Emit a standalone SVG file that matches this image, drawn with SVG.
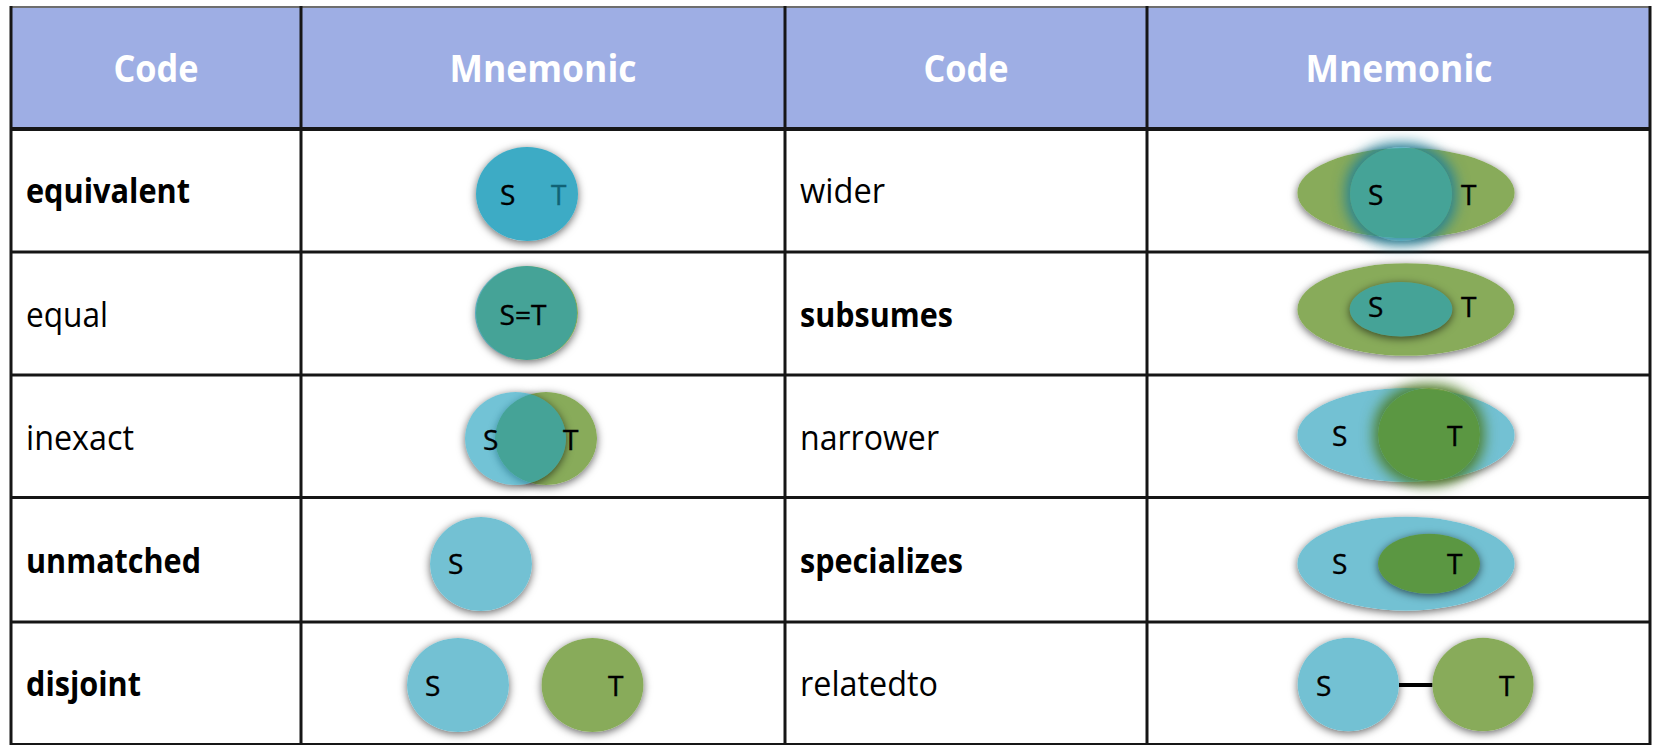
<svg xmlns="http://www.w3.org/2000/svg" width="1653" height="745" viewBox="0 0 1653 745">
<style>
  .hd{font-family:"Open Sans","Liberation Sans",sans-serif;font-weight:bold;font-size:37px;fill:#ffffff;text-anchor:middle}
  .c{font-family:"Open Sans","Liberation Sans",sans-serif;font-size:34px;fill:#000000}
  .b{font-weight:bold}
  .lb{font-family:"Open Sans","Liberation Sans",sans-serif;font-size:28px;fill:#000000;stroke:#000000;stroke-width:0.4}
  .grid{stroke:#161616;stroke-width:3;fill:none}
  .bs{fill:#73c1d3}
  .gs{fill:#88ab5a}
  .bo{fill:#1b9ebd;fill-opacity:0.62}
  .go{fill:#558c19;fill-opacity:0.78}
</style>
<defs>
  <filter id="sh" x="-40%" y="-40%" width="180%" height="180%" color-interpolation-filters="sRGB">
    <feComponentTransfer in="SourceAlpha" result="a"><feFuncA type="linear" slope="1"/></feComponentTransfer>
    <feGaussianBlur in="a" stdDeviation="4" result="b"/>
    <feOffset in="b" dy="2" result="o"/>
    <feFlood flood-color="#000000" flood-opacity="0.6"/>
    <feComposite in2="o" operator="in" result="s"/>
    <feComposite in="s" in2="a" operator="out" result="so"/>
    <feMerge><feMergeNode in="so"/><feMergeNode in="SourceGraphic"/></feMerge>
  </filter>
  <filter id="shB" x="-40%" y="-40%" width="180%" height="180%" color-interpolation-filters="sRGB">
    <feComponentTransfer in="SourceAlpha" result="a"><feFuncA type="linear" slope="1.613"/></feComponentTransfer>
    <feGaussianBlur in="a" stdDeviation="4" result="b"/>
    <feOffset in="b" dy="2" result="o"/>
    <feFlood flood-color="#000000" flood-opacity="0.6"/>
    <feComposite in2="o" operator="in" result="s"/>
    <feComposite in="s" in2="a" operator="out" result="so"/>
    <feMerge><feMergeNode in="so"/><feMergeNode in="SourceGraphic"/></feMerge>
  </filter>
  <filter id="shG" x="-40%" y="-40%" width="180%" height="180%" color-interpolation-filters="sRGB">
    <feComponentTransfer in="SourceAlpha" result="a"><feFuncA type="linear" slope="1.282"/></feComponentTransfer>
    <feGaussianBlur in="a" stdDeviation="4" result="b"/>
    <feOffset in="b" dy="2" result="o"/>
    <feFlood flood-color="#000000" flood-opacity="0.6"/>
    <feComposite in2="o" operator="in" result="s"/>
    <feComposite in="s" in2="a" operator="out" result="so"/>
    <feMerge><feMergeNode in="so"/><feMergeNode in="SourceGraphic"/></feMerge>
  </filter>
  <filter id="glowB" x="-50%" y="-50%" width="200%" height="200%" color-interpolation-filters="sRGB">
    <feComponentTransfer in="SourceAlpha" result="a"><feFuncA type="linear" slope="1.613"/></feComponentTransfer>
    <feMorphology in="a" operator="dilate" radius="4" result="d"/>
    <feGaussianBlur in="d" stdDeviation="7" result="b"/>
    <feFlood flood-color="#1e7f99" flood-opacity="0.95"/>
    <feComposite in2="b" operator="in" result="s"/>
    <feComposite in="s" in2="a" operator="out" result="so"/>
    <feMerge><feMergeNode in="so"/><feMergeNode in="SourceGraphic"/></feMerge>
  </filter>
  <filter id="glowG" x="-50%" y="-50%" width="200%" height="200%" color-interpolation-filters="sRGB">
    <feComponentTransfer in="SourceAlpha" result="a"><feFuncA type="linear" slope="1.282"/></feComponentTransfer>
    <feMorphology in="a" operator="dilate" radius="4" result="d"/>
    <feGaussianBlur in="d" stdDeviation="7" result="b"/>
    <feFlood flood-color="#4a7a20" flood-opacity="0.95"/>
    <feComposite in2="b" operator="in" result="s"/>
    <feComposite in="s" in2="a" operator="out" result="so"/>
    <feMerge><feMergeNode in="so"/><feMergeNode in="SourceGraphic"/></feMerge>
  </filter>
</defs>

<rect x="0" y="0" width="1653" height="745" fill="#ffffff"/>

<g id="table">
  <rect x="11" y="7" width="1639" height="122" fill="#9eaee4"/>
  <line x1="10" y1="7" x2="1651" y2="7" stroke="#6e6e6e" stroke-width="2"/>
  <line x1="11" y1="6" x2="11" y2="745" class="grid"/>
  <line x1="1650" y1="6" x2="1650" y2="745" class="grid"/>
  <line x1="301" y1="6" x2="301" y2="745" class="grid"/>
  <line x1="785" y1="6" x2="785" y2="745" class="grid"/>
  <line x1="1147" y1="6" x2="1147" y2="745" class="grid"/>
  <line x1="10" y1="129" x2="1651" y2="129" stroke="#161616" stroke-width="4"/>
  <line x1="10" y1="252" x2="1651" y2="252" class="grid"/>
  <line x1="10" y1="375" x2="1651" y2="375" class="grid"/>
  <line x1="10" y1="497.5" x2="1651" y2="497.5" class="grid"/>
  <line x1="10" y1="622" x2="1651" y2="622" class="grid"/>
  <line x1="10" y1="744" x2="1651" y2="744" stroke="#161616" stroke-width="2"/>
</g>

<g id="headers">
  <text class="hd" x="156" y="82" textLength="85" lengthAdjust="spacingAndGlyphs">Code</text>
  <text class="hd" x="543" y="82" textLength="187" lengthAdjust="spacingAndGlyphs">Mnemonic</text>
  <text class="hd" x="966" y="82" textLength="85" lengthAdjust="spacingAndGlyphs">Code</text>
  <text class="hd" x="1399" y="82" textLength="187" lengthAdjust="spacingAndGlyphs">Mnemonic</text>
</g>

<g id="codes">
  <text class="c b" x="26" y="203" textLength="164" lengthAdjust="spacingAndGlyphs">equivalent</text>
  <text class="c" x="26" y="327" textLength="82" lengthAdjust="spacingAndGlyphs">equal</text>
  <text class="c" x="26" y="450" textLength="108" lengthAdjust="spacingAndGlyphs">inexact</text>
  <text class="c b" x="26" y="573" textLength="175" lengthAdjust="spacingAndGlyphs">unmatched</text>
  <text class="c b" x="26" y="696" textLength="115" lengthAdjust="spacingAndGlyphs">disjoint</text>
  <text class="c" x="800" y="203" textLength="85" lengthAdjust="spacingAndGlyphs">wider</text>
  <text class="c b" x="800" y="327" textLength="153" lengthAdjust="spacingAndGlyphs">subsumes</text>
  <text class="c" x="800" y="450" textLength="139" lengthAdjust="spacingAndGlyphs">narrower</text>
  <text class="c b" x="800" y="573" textLength="163" lengthAdjust="spacingAndGlyphs">specializes</text>
  <text class="c" x="800" y="696" textLength="138" lengthAdjust="spacingAndGlyphs">relatedto</text>
</g>

<g id="equivalent">
  <ellipse class="bs" cx="527" cy="194" rx="51" ry="47" filter="url(#sh)"/>
  <text class="lb" x="551" y="205">T</text>
  <ellipse class="bo" cx="527" cy="194" rx="51" ry="47"/>
  <text class="lb" x="500" y="205">S</text>
</g>

<g id="equal">
  <ellipse class="gs" cx="527" cy="313" rx="51" ry="47" filter="url(#sh)"/>
  <ellipse class="bo" cx="526" cy="313" rx="51" ry="47"/>
  <text class="lb" x="523" y="325" text-anchor="middle">S=T</text>
</g>

<g id="inexact">
  <ellipse class="gs" cx="546" cy="438.5" rx="51" ry="46.5" filter="url(#sh)"/>
  <ellipse class="bo" cx="515.5" cy="438.5" rx="50.5" ry="46.5" filter="url(#shB)"/>
  <text class="lb" x="483" y="450">S</text>
  <text class="lb" x="563" y="450">T</text>
</g>

<g id="unmatched">
  <ellipse class="bs" cx="481" cy="564" rx="51" ry="47" filter="url(#sh)"/>
  <text class="lb" x="448" y="574">S</text>
</g>

<g id="disjoint">
  <ellipse class="bs" cx="458" cy="685" rx="51" ry="47" filter="url(#sh)"/>
  <ellipse class="gs" cx="592.5" cy="685" rx="51" ry="47" filter="url(#sh)"/>
  <text class="lb" x="425" y="696">S</text>
  <text class="lb" x="608" y="696">T</text>
</g>

<g id="wider">
  <ellipse class="gs" cx="1406" cy="193" rx="108.7" ry="45" filter="url(#sh)"/>
  <ellipse class="bo" cx="1401" cy="194" rx="51" ry="47" filter="url(#glowB)"/>
  <text class="lb" x="1368" y="205">S</text>
  <text class="lb" x="1461" y="205">T</text>
</g>

<g id="subsumes">
  <ellipse class="gs" cx="1406" cy="309.5" rx="108.7" ry="46.3" filter="url(#sh)"/>
  <ellipse class="bo" cx="1401" cy="309.3" rx="51.3" ry="27.3" filter="url(#shB)"/>
  <text class="lb" x="1368" y="317">S</text>
  <text class="lb" x="1461" y="317">T</text>
</g>

<g id="narrower">
  <ellipse class="bs" cx="1406" cy="435" rx="108.7" ry="47" filter="url(#sh)"/>
  <ellipse class="go" cx="1429" cy="434.5" rx="51" ry="46.5" filter="url(#glowG)"/>
  <text class="lb" x="1332" y="446">S</text>
  <text class="lb" x="1447" y="446">T</text>
</g>

<g id="specializes">
  <ellipse class="bs" cx="1406" cy="563.7" rx="108.7" ry="47" filter="url(#sh)"/>
  <ellipse class="go" cx="1429" cy="563.7" rx="51" ry="30" filter="url(#shG)"/>
  <text class="lb" x="1332" y="574">S</text>
  <text class="lb" x="1447" y="574">T</text>
</g>

<g id="relatedto-S">
  <ellipse class="bs" cx="1348.3" cy="684.5" rx="50.7" ry="46.7" filter="url(#sh)"/>
  <text class="lb" x="1316" y="696">S</text>
</g>
<g id="relatedto-T">
  <ellipse class="gs" cx="1483" cy="684.5" rx="50.7" ry="46.7" filter="url(#sh)"/>
  <text class="lb" x="1499" y="696">T</text>
</g>

<g id="connectors">
  <line x1="1399" y1="685" x2="1432.3" y2="685" stroke="#000000" stroke-width="4"/>
</g>
</svg>
